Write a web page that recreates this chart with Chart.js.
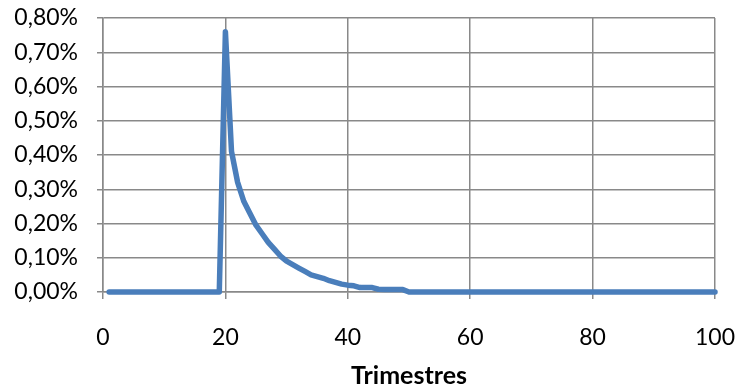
<!DOCTYPE html>
<html>
<head>
<meta charset="utf-8">
<script src="https://cdn.jsdelivr.net/npm/chart.js@4"></script>
<style>
  html, body { margin: 0; padding: 0; background: #fff; }
  #wrap { width: 740px; height: 391px; }
</style>
</head>
<body>
<div id="wrap"><canvas id="shockChart" width="740" height="391"></canvas></div>
<script>
// quarter index (Trimestres)
const quarters = [
    1, 2, 3, 4, 5, 6, 7, 8, 9, 10,
    11, 12, 13, 14, 15, 16, 17, 18, 19, 20,
    21, 22, 23, 24, 25, 26, 27, 28, 29, 30,
    31, 32, 33, 34, 35, 36, 37, 38, 39, 40,
    41, 42, 43, 44, 45, 46, 47, 48, 49, 50,
    51, 52, 53, 54, 55, 56, 57, 58, 59, 60,
    61, 62, 63, 64, 65, 66, 67, 68, 69, 70,
    71, 72, 73, 74, 75, 76, 77, 78, 79, 80,
    81, 82, 83, 84, 85, 86, 87, 88, 89, 90,
    91, 92, 93, 94, 95, 96, 97, 98, 99, 100
];

// response in percent
const response = [
    0, 0, 0, 0, 0, 0, 0, 0, 0, 0,
    0, 0, 0, 0, 0, 0, 0, 0, 0, 0.76,
    0.41, 0.32, 0.265, 0.23, 0.195, 0.17, 0.145, 0.125, 0.105, 0.09,
    0.08, 0.07, 0.06, 0.05, 0.045, 0.04, 0.033, 0.028, 0.023, 0.02,
    0.018, 0.013, 0.013, 0.013, 0.008, 0.007, 0.007, 0.007, 0.007, 0,
    0, 0, 0, 0, 0, 0, 0, 0, 0, 0,
    0, 0, 0, 0, 0, 0, 0, 0, 0, 0,
    0, 0, 0, 0, 0, 0, 0, 0, 0, 0,
    0, 0, 0, 0, 0, 0, 0, 0, 0, 0,
    0, 0, 0, 0, 0, 0, 0, 0, 0, 0
];

const xTicks = [0, 20, 40, 60, 80, 100];
const yTicks = [0, 0.1, 0.2, 0.3, 0.4, 0.5, 0.6, 0.7, 0.8];

const gridGrey = '#898989';
const tickFont = { family: 'Lato', size: 23 };

const ctx = document.getElementById('shockChart').getContext('2d');
const chart = new Chart(ctx, {
    type: 'line',
    data: {
        datasets: [{
            data: quarters.map((q, i) => ({ x: q, y: response[i] })),
            borderColor: '#4a7ebb',
            borderWidth: 5.5,
            borderCapStyle: 'round',
            borderJoinStyle: 'round',
            pointRadius: 0,
            tension: 0,
            clip: false
        }]
    },
    options: {
        responsive: false,
        animation: false,
        layout: {
            padding: { top: 18, right: 25, left: 0, bottom: 0 }
        },
        plugins: {
            legend: { display: false },
            tooltip: { enabled: false }
        },
        scales: {
            x: {
                type: 'linear',
                min: 0,
                max: 100,
                afterBuildTicks: s => { s.ticks = xTicks.map(v => ({ value: v })); },
                afterFit: s => {
                    // fixed band under the plot, label overhang handled by layout padding
                    s.height = 99;
                    s.paddingLeft = 0;
                    s.paddingRight = 0;
                },
                ticks: { color: '#000', font: tickFont, padding: 25, maxRotation: 0 },
                grid: { color: gridGrey, lineWidth: 1.5, tickLength: 7 },
                border: { color: gridGrey, width: 1.5 },
                title: {
                    display: true,
                    text: 'Trimestres',
                    color: '#000',
                    font: { family: 'Lato', size: 25, weight: 'bold' },
                    padding: { top: 0, bottom: 0 }
                }
            },
            y: {
                min: 0,
                max: 0.8,
                afterBuildTicks: s => { s.ticks = yTicks.map(v => ({ value: v })); },
                afterFit: s => {
                    s.width = 103;
                    s.paddingTop = 0;
                    s.paddingBottom = 0;
                },
                ticks: {
                    color: '#000',
                    font: tickFont,
                    padding: 19,
                    callback: v => v.toFixed(2).replace('.', ',') + '%'
                },
                grid: { color: gridGrey, lineWidth: 1.5, tickLength: 6 },
                border: { color: gridGrey, width: 1.5 }
            }
        }
    }
});
</script>
</body>
</html>
